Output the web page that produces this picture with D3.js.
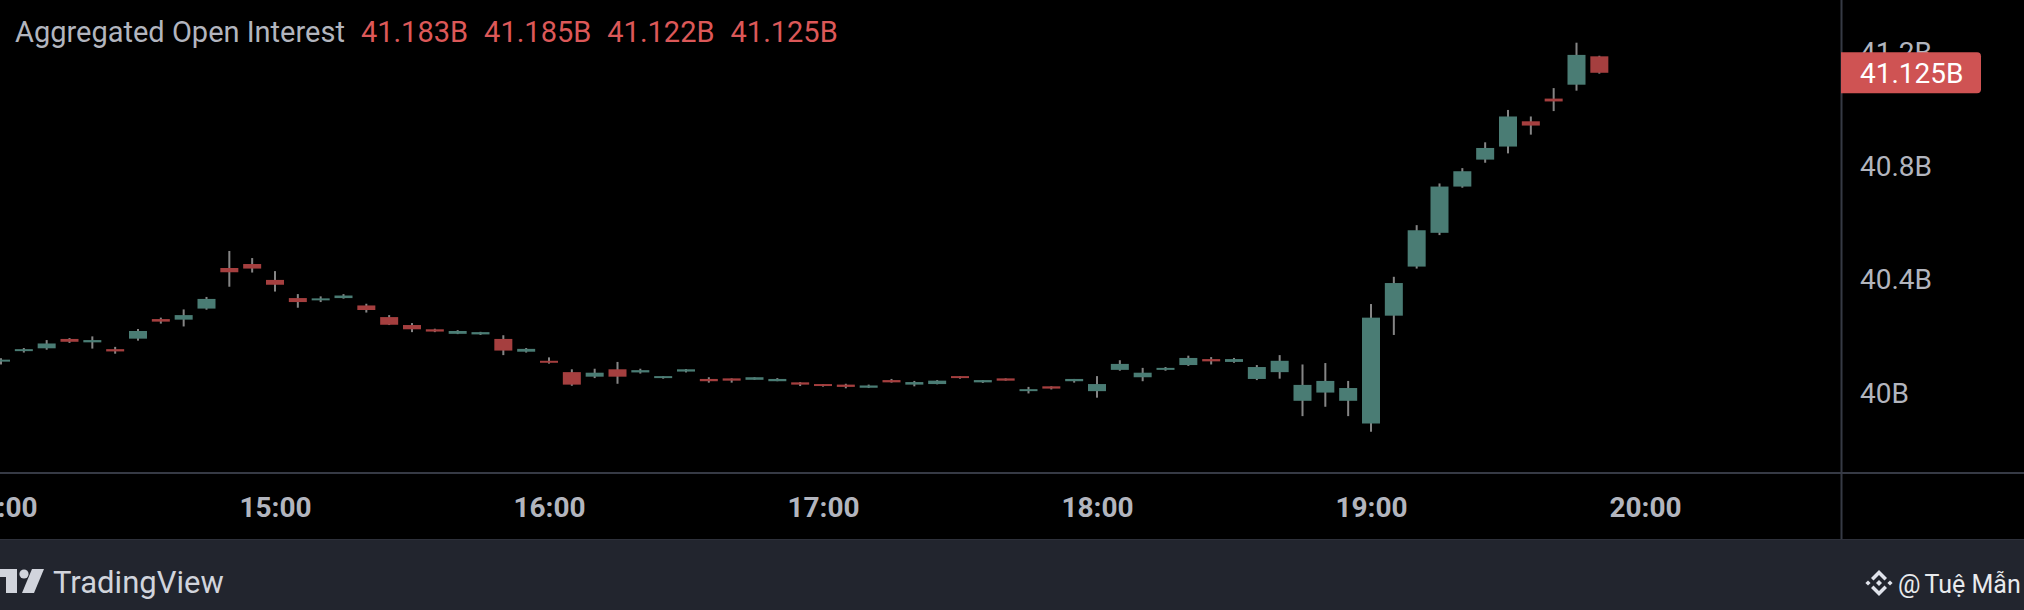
<!DOCTYPE html>
<html>
<head>
<meta charset="utf-8">
<script src="https://cdn.jsdelivr.net/npm/d3@7"></script>
<style>
  html, body { margin: 0; padding: 0; background: #000; }
  svg { display: block; }
  text { font-family: Roboto, "Noto Sans", sans-serif; }
</style>
</head>
<body>
<svg id="chart" width="2024" height="610"></svg>
<script>
// ---- Data (5-minute candles, values in billions) ----
const times = ["14:00","14:05","14:10","14:15","14:20","14:25","14:30","14:35","14:40","14:45","14:50","14:55",
  "15:00","15:05","15:10","15:15","15:20","15:25","15:30","15:35","15:40","15:45","15:50","15:55",
  "16:00","16:05","16:10","16:15","16:20","16:25","16:30","16:35","16:40","16:45","16:50","16:55",
  "17:00","17:05","17:10","17:15","17:20","17:25","17:30","17:35","17:40","17:45","17:50","17:55",
  "18:00","18:05","18:10","18:15","18:20","18:25","18:30","18:35","18:40","18:45","18:50","18:55",
  "19:00","19:05","19:10","19:15","19:20","19:25","19:30","19:35","19:40","19:45","19:50"];
const opens = [40.107,40.144,40.154,40.187,40.175,40.151,40.188,40.257,40.255,40.294,40.437,40.451,
  40.395,40.331,40.323,40.331,40.305,40.264,40.236,40.221,40.205,40.203,40.187,40.142,
  40.110,40.070,40.054,40.080,40.069,40.049,40.072,40.046,40.048,40.043,40.038,40.034,
  40.028,40.026,40.015,40.042,40.026,40.028,40.056,40.034,40.048,40.003,40.020,40.038,
  40.003,40.078,40.052,40.078,40.095,40.116,40.106,40.046,40.070,39.969,39.998,39.969,
  39.889,40.269,40.442,40.561,40.724,40.819,40.865,40.954,41.034,41.083,41.183];
const highs = [40.119,40.155,40.183,40.190,40.196,40.159,40.222,40.262,40.291,40.335,40.497,40.472,
  40.426,40.345,40.337,40.345,40.311,40.271,40.243,40.223,40.218,40.212,40.200,40.155,
  40.122,40.080,40.082,40.106,40.082,40.056,40.081,40.052,40.048,40.052,40.049,40.035,
  40.028,40.029,40.026,40.046,40.039,40.042,40.056,40.042,40.048,40.018,40.020,40.046,
  40.056,40.112,40.085,40.088,40.128,40.123,40.120,40.095,40.130,40.097,40.102,40.039,
  40.310,40.406,40.588,40.735,40.789,40.880,40.994,40.971,41.071,41.231,41.185];
const lows = [40.097,40.139,40.149,40.173,40.153,40.135,40.181,40.241,40.231,40.290,40.371,40.421,
  40.354,40.297,40.317,40.329,40.280,40.236,40.211,40.211,40.204,40.201,40.130,40.139,
  40.100,40.022,40.049,40.029,40.065,40.047,40.069,40.033,40.033,40.043,40.038,40.021,
  40.019,40.013,40.014,40.033,40.020,40.027,40.047,40.032,40.040,39.995,40.009,40.033,
  39.980,40.075,40.038,40.075,40.092,40.097,40.103,40.042,40.047,39.915,39.948,39.915,
  39.860,40.201,40.435,40.553,40.720,40.808,40.841,40.907,40.990,41.062,41.122];
const closes = [40.114,40.151,40.171,40.177,40.183,40.143,40.215,40.248,40.271,40.328,40.422,40.435,
  40.378,40.317,40.330,40.340,40.289,40.237,40.221,40.213,40.215,40.211,40.146,40.152,
  40.103,40.026,40.068,40.054,40.077,40.056,40.080,40.038,40.040,40.052,40.046,40.026,
  40.021,40.018,40.023,40.034,40.035,40.040,40.049,40.042,40.040,40.010,40.012,40.046,
  40.028,40.099,40.068,40.085,40.120,40.108,40.116,40.088,40.110,40.025,40.039,40.014,
  40.262,40.384,40.570,40.724,40.778,40.860,40.971,40.939,41.024,41.188,41.125];

const timeTicks = ["14:00","15:00","16:00","17:00","18:00","19:00","20:00"];
const priceTicks = [40, 40.4, 40.8, 41.2];
const priceTickLabels = ["40B","40.4B","40.8B","41.2B"];
const titleText = "Aggregated Open Interest";
const ohlcLabels = ["41.183B","41.185B","41.122B","41.125B"];
const lastPriceLabel = "41.125B";
const brandText = "TradingView";
const authorAt = "@";
const authorName = "Tuệ Mẫn";

// ---- Layout ----
const W = 2024, H = 610;
const plotRight = 1841, plotBottom = 473, axisBottomEnd = 539;
const GREEN = "#4a7c74", RED = "#a53f3f", WICK = "#858585";
const TXT = "#b2b5be", BORDER = "#363a45";

const toMin = s => { const [h, m] = s.split(":").map(Number); return (h - 14) * 60 + m; };
const x = d3.scaleLinear().domain([0, 360]).range([1, 1645]);
const y = d3.scaleLinear().domain([40, 41.2]).range([392, 51.5]);

const svg = d3.select("#chart");
svg.append("rect").attr("width", W).attr("height", H).attr("fill", "#000");

// footer
svg.append("rect").attr("x", 0).attr("y", axisBottomEnd).attr("width", W).attr("height", H - axisBottomEnd).attr("fill", "#22252e");
svg.append("line").attr("x1", 0).attr("x2", W).attr("y1", axisBottomEnd + 0.5).attr("y2", axisBottomEnd + 0.5).attr("stroke", "#2e313b").attr("stroke-width", 1);

// clip for the plot area
svg.append("defs").append("clipPath").attr("id", "plotClip")
  .append("rect").attr("x", 0).attr("y", 0).attr("width", plotRight).attr("height", plotBottom);

const candles = times.map((t, i) => ({ t: toMin(t), o: opens[i], h: highs[i], l: lows[i], c: closes[i] }));
const plot = svg.append("g").attr("clip-path", "url(#plotClip)");

plot.selectAll("rect.wick").data(candles).join("rect").attr("class", "wick")
  .attr("x", d => x(d.t) - 1).attr("width", 2)
  .attr("y", d => y(d.h)).attr("height", d => Math.max(1, y(d.l) - y(d.h)))
  .attr("fill", WICK);

plot.selectAll("rect.body").data(candles).join("rect").attr("class", "body")
  .attr("x", d => x(d.t) - 9).attr("width", 18)
  .attr("y", d => y(Math.max(d.o, d.c)))
  .attr("height", d => Math.max(1.5, Math.abs(y(d.o) - y(d.c))))
  .attr("fill", d => d.c >= d.o ? GREEN : RED);

// borders
svg.append("line").attr("x1", plotRight + 0.5).attr("x2", plotRight + 0.5).attr("y1", 0).attr("y2", axisBottomEnd)
  .attr("stroke", BORDER).attr("stroke-width", 2);
svg.append("line").attr("x1", 0).attr("x2", W).attr("y1", plotBottom).attr("y2", plotBottom)
  .attr("stroke", BORDER).attr("stroke-width", 2);

// y axis
const yAxis = d3.axisRight(y).tickValues(priceTicks).tickSize(0).tickPadding(19)
  .tickFormat((d, i) => priceTickLabels[i]);
const yg = svg.append("g").attr("transform", `translate(${plotRight},0)`).call(yAxis);
yg.select(".domain").remove();
yg.selectAll("text").attr("fill", TXT).attr("font-size", 28).attr("font-family", "Roboto").attr("dy", "0.36em");

// x axis
const xAxis = d3.axisBottom(x).tickValues(timeTicks.map(toMin)).tickSize(0).tickPadding(24)
  .tickFormat((d, i) => timeTicks[i]);
const xg = svg.append("g").attr("transform", `translate(0,${plotBottom})`).call(xAxis);
xg.select(".domain").remove();
xg.selectAll("text").attr("fill", TXT).attr("font-size", 28).attr("font-weight", 700).attr("font-family", "Roboto");

// last price label
const lp = closes[closes.length - 1];
const lpY = y(lp);
svg.append("path")
  .attr("d", `M${plotRight},${lpY - 20.5} H${1977} Q${1981},${lpY - 20.5} ${1981},${lpY - 16.5} V${lpY + 16.5} Q${1981},${lpY + 20.5} ${1977},${lpY + 20.5} H${plotRight} Z`)
  .attr("fill", "#cf5353");
svg.append("text").attr("x", 1860).attr("y", lpY).attr("dy", "0.36em")
  .attr("fill", "#ffffff").attr("font-size", 28).text(lastPriceLabel);

// title + OHLC
const title = svg.append("text").attr("x", 15).attr("y", 42).attr("fill", TXT).attr("font-size", 29).text(titleText);
let tx = 15 + title.node().getComputedTextLength() + 16;
ohlcLabels.forEach(s => {
  const t = svg.append("text").attr("x", tx).attr("y", 42).attr("fill", "#dc5858").attr("font-size", 29).text(s);
  tx += t.node().getComputedTextLength() + 16;
});

// footer: TradingView logo + text
const logo = svg.append("g").attr("fill", "#d1d4dc");
logo.append("path").attr("d", "M-6,569 H17 V593 H6 V577 H-6 Z");
logo.append("circle").attr("cx", 24).attr("cy", 574).attr("r", 4.6);
logo.append("path").attr("d", "M32,569 H44 L34,593 H22 Z");
svg.append("text").attr("x", 53).attr("y", 593).attr("fill", "#d1d4dc").attr("font-size", 31).text(brandText);

// footer: Binance-style icon + author
const ic = svg.append("g").attr("fill", "#e0e3eb").attr("transform", "translate(1879,583)");
ic.append("path").attr("d", "M0,-13 L8,-5 L5.5,-2.5 L0,-8 L-5.5,-2.5 L-8,-5 Z");
ic.append("path").attr("d", "M0,13 L8,5 L5.5,2.5 L0,8 L-5.5,2.5 L-8,5 Z");
ic.append("path").attr("d", "M0,-3 L3,0 L0,3 L-3,0 Z");
ic.append("path").attr("d", "M-11,-2.6 L-8.4,0 L-11,2.6 L-13.6,0 Z");
ic.append("path").attr("d", "M11,-2.6 L13.6,0 L11,2.6 L8.4,0 Z");
const auth = svg.append("text").attr("x", 1898).attr("y", 593).attr("fill", "#e8eaed").attr("font-size", 25);
auth.append("tspan").text(authorAt);
auth.append("tspan").attr("dx", 4).text(authorName);
</script>
</body>
</html>
